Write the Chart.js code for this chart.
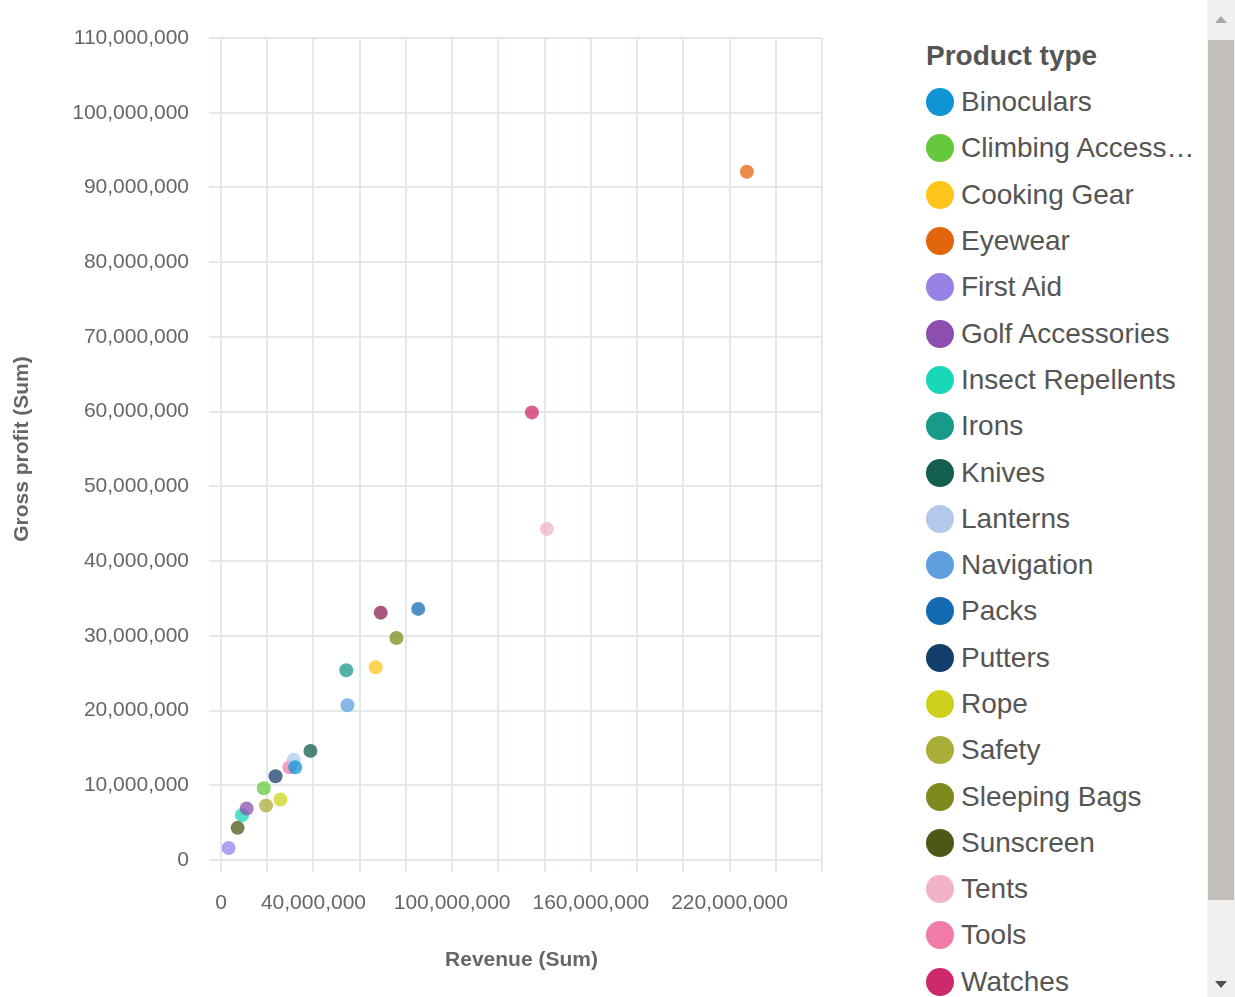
<!DOCTYPE html>
<html>
<head>
<meta charset="utf-8">
<script src="https://cdn.jsdelivr.net/npm/chart.js@4.4.1/dist/chart.umd.min.js"></script>
<style>
  html, body { margin: 0; padding: 0; background: #fff; overflow: hidden; }
  body { width: 1235px; height: 997px; position: relative; font-family: "Liberation Sans", Arial, sans-serif; }
  #chartBox { position: absolute; left: 0; top: 0; width: 850px; height: 997px; }
  #legend {
    position: absolute; left: 926px; top: 0; width: 281px; height: 997px;
    overflow: hidden; box-sizing: border-box; padding-top: 33px;
  }
  #track { position: absolute; left: 1207px; top: 0; width: 28px; height: 997px; background: #f1f0ee; }
  #thumb { position: absolute; left: 1px; top: 40px; width: 26px; height: 860px; background: #c2beba; }
  #upArrow, #downArrow { position: absolute; left: 8px; width: 0; height: 0; border-left: 6px solid transparent; border-right: 6px solid transparent; }
  #upArrow { top: 16px; border-bottom: 7px solid #a8a8a8; }
  #downArrow { top: 981px; border-top: 7px solid #505050; }
  .ltitle { height: 46px; line-height: 46px; font-size: 28px; font-weight: bold; color: #555; white-space: nowrap; }
  .litem { height: 46.3px; display: flex; align-items: center; white-space: nowrap; }
  .ldot { width: 28px; height: 28px; border-radius: 50%; flex: none; }
  .ltext { margin-left: 7px; font-size: 28px; color: #555; width: 248px; overflow: hidden; text-overflow: ellipsis; }
</style>
</head>
<body>
<div id="chartBox"><canvas id="scatter" width="850" height="997"></canvas></div>
<div id="legend"></div>
<div id="track"><div id="upArrow"></div><div id="thumb"></div><div id="downArrow"></div></div>
<script>
// product types, revenue (x) and gross profit (y), one point each
const productTypes = ['Binoculars', 'Climbing Accessories', 'Cooking Gear', 'Eyewear', 'First Aid',
  'Golf Accessories', 'Insect Repellents', 'Irons', 'Knives', 'Lanterns', 'Navigation', 'Packs',
  'Putters', 'Rope', 'Safety', 'Sleeping Bags', 'Sunscreen', 'Tents', 'Tools', 'Watches', 'Woods'];
const revenue = [32.1e6, 18.5e6, 66.9e6, 227.5e6, 3.3e6, 11.1e6, 9.1e6, 54.2e6, 38.7e6, 31.5e6,
  54.7e6, 85.3e6, 23.6e6, 25.7e6, 19.5e6, 75.9e6, 7.2e6, 141.0e6, 29.6e6, 134.5e6, 69.1e6];
const grossProfit = [12.4e6, 9.6e6, 25.8e6, 92.1e6, 1.6e6, 6.9e6, 6.0e6, 25.4e6, 14.6e6, 13.4e6,
  20.7e6, 33.6e6, 11.2e6, 8.1e6, 7.3e6, 29.7e6, 4.3e6, 44.3e6, 12.4e6, 59.9e6, 33.1e6];
const palette = ['#0f95d4', '#66c83c', '#ffc41a', '#e3650c', '#9882e6', '#8c4fae', '#18d8b8',
  '#189a8a', '#145e50', '#b2c9ec', '#5f9fe0', '#136ab0', '#153f6b', '#cdd11e', '#a9ae38',
  '#7f8a1e', '#4e5716', '#f2b3c8', '#f07ba8', '#cc2a6c', '#8e1f50'];
const xTickLabels = [0, 40e6, 100e6, 160e6, 220e6];

function withAlpha(hex, a) {
  const n = parseInt(hex.slice(1), 16);
  return 'rgba(' + (n >> 16) + ',' + ((n >> 8) & 255) + ',' + (n & 255) + ',' + a + ')';
}

const datasets = productTypes.map((name, i) => ({
  label: name,
  data: [{ x: revenue[i], y: grossProfit[i] }],
  backgroundColor: withAlpha(palette[i], 0.75),
  borderWidth: 0,
  pointRadius: 7,
  pointHoverRadius: 7
}));

const fmt = v => v.toLocaleString('en-US');
const gridStyle = { color: '#e1e9e9', lineWidth: 2, tickLength: 12, tickColor: '#e1e9e9' };
const tickFont = { family: '"Liberation Sans", Arial, sans-serif', size: 21 };
const titleFont = { family: '"Liberation Sans", Arial, sans-serif', size: 21, weight: 'bold' };

new Chart(document.getElementById('scatter').getContext('2d'), {
  type: 'scatter',
  data: { datasets: datasets },
  options: {
    responsive: false,
    animation: false,
    layout: { padding: { top: 38, right: 28, left: 0, bottom: 0 } },
    plugins: { legend: { display: false }, tooltip: { enabled: false } },
    scales: {
      x: {
        type: 'linear',
        min: 0, max: 260e6,
        grid: gridStyle,
        border: { color: '#e1e9e9', width: 2 },
        ticks: {
          stepSize: 20e6, autoSkip: false, minRotation: 0, maxRotation: 0,
          padding: 19, color: '#666', font: tickFont,
          callback: v => xTickLabels.includes(v) ? fmt(v) : ''
        },
        title: { display: true, text: 'Revenue (Sum)', color: '#666', font: titleFont, padding: { bottom: 24 } },
        afterFit: s => { s.height = 137; }
      },
      y: {
        type: 'linear',
        min: 0, max: 110e6,
        grid: gridStyle,
        border: { color: '#e1e9e9', width: 2 },
        ticks: { stepSize: 10e6, padding: 20, color: '#666', font: tickFont, callback: v => fmt(v) },
        title: { display: true, text: 'Gross profit (Sum)', color: '#666', font: titleFont, padding: { top: 10 } },
        afterFit: s => { s.width = 221; }
      }
    }
  }
});

// html legend, clipped like the original scrolling panel
const legend = document.getElementById('legend');
const head = document.createElement('div');
head.className = 'ltitle';
head.textContent = 'Product type';
legend.appendChild(head);
productTypes.forEach((name, i) => {
  const row = document.createElement('div');
  row.className = 'litem';
  const dot = document.createElement('span');
  dot.className = 'ldot';
  dot.style.background = palette[i];
  const txt = document.createElement('span');
  txt.className = 'ltext';
  txt.textContent = name;
  row.appendChild(dot);
  row.appendChild(txt);
  legend.appendChild(row);
});
</script>
</body>
</html>
